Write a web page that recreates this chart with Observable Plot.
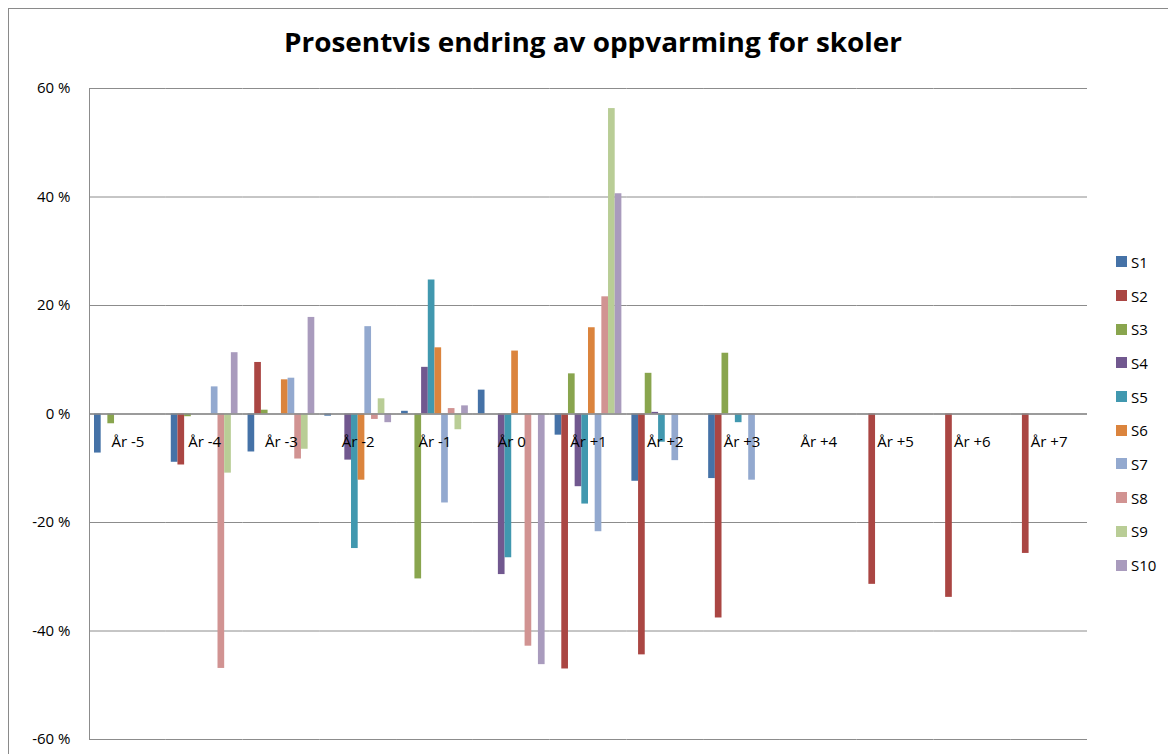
<!DOCTYPE html>
<html>
<head>
<meta charset="utf-8">
<script src="https://cdn.jsdelivr.net/npm/d3@7"></script>
<script src="https://cdn.jsdelivr.net/npm/@observablehq/plot@0.6"></script>
<style>
  body { margin: 0; background: #fff; font-family: "Open Sans", sans-serif; }
  #wrap { position: relative; width: 1168px; height: 754px; overflow: hidden; background: #fff; }
  #frame { position: absolute; left: 8px; top: 8px; width: 1200px; height: 800px;
           border-left: 1px solid #8a8a8a; border-top: 1px solid #8a8a8a; }
  #chart { position: absolute; left: 0; top: 0; }
  #titlebox { position: absolute; left: 0; top: 0; }
  #legend { position: absolute; left: 1116px; top: 245px; font-size: 15px; color: #000; }
  .item { height: 33.7px; display: flex; align-items: center; }
  .sw { width: 11px; height: 11px; margin-right: 4px; }
</style>
</head>
<body>
<div id="wrap">
  <div id="frame"></div>
  <div id="chart"></div>
  <div id="titlebox"></div>
  <div id="legend"></div>
</div>
<script>
const title = "Prosentvis endring av oppvarming for skoler";
const categories = ["År -5", "År -4", "År -3", "År -2", "År -1", "År 0", "År +1", "År +2", "År +3", "År +4", "År +5", "År +6", "År +7"];
const seriesNames = ["S1", "S2", "S3", "S4", "S5", "S6", "S7", "S8", "S9", "S10"];
const seriesColors = ["#4572A7", "#AA4643", "#89A54E", "#71588F", "#4198AF", "#DB843D", "#93A9CF", "#D19392", "#B9CD96", "#A99BBD"];
const yTicks = [-60, -40, -20, 0, 20, 40, 60];

// values in percent, null = no bar
const S1  = [-7.2, -8.9, -7.0, -0.4,   0.5,   4.4,  -3.9, -12.4, -11.9, null, null,  null,  null];
const S2  = [null, -9.4,  9.5, null,  null,  null, -47.0, -44.4, -37.6, null, -31.4, -33.8, -25.7];
const S3  = [-1.8, -0.5,  0.7, null, -30.4,  null,   7.4,   7.5,  11.2, null, null,  null,  null];
const S4  = [null, null, null, -8.5,   8.6, -29.6, -13.4,   0.3,  null, null, null,  null,  null];
const S5  = [null, null, null, -24.8, 24.7, -26.5, -16.6,  -5.2,  -1.6, null, null,  null,  null];
const S6  = [null, null,  6.3, -12.2, 12.2,  11.6,  15.9,  null,  null, null, null,  null,  null];
const S7  = [null,  5.0,  6.6, 16.1, -16.4,  null, -21.7,  -8.6, -12.2, null, null,  null,  null];
const S8  = [null, -46.9, -8.3, -1.0,  1.0, -42.8,  21.6,  null,  null, null, null,  null,  null];
const S9  = [null, -10.9, -6.5,  2.8, -2.9,  null,  56.3,  null,  null, null, null,  null,  null];
const S10 = [null, 11.3, 17.8, -1.6,   1.5, -46.2,  40.6,  null,  null, null, null,  null,  null];

const seriesValues = [S1, S2, S3, S4, S5, S6, S7, S8, S9, S10];
const data = [];
categories.forEach((c, i) => {
  seriesNames.forEach((s, j) => {
    const v = seriesValues[j][i];
    if (v != null) data.push({cat: c, series: s, value: v});
  });
});

const gridColor = "#8c8c8c";
const chart = Plot.plot({
  width: 1168,
  height: 754,
  marginTop: 88,
  marginBottom: 15,
  marginLeft: 89,
  marginRight: 81,
  style: {fontFamily: "'Open Sans', sans-serif", fontSize: "15px", color: "#000", background: "transparent", overflow: "visible"},
  fx: {domain: categories, padding: 0, round: false, axis: null, label: null},
  x: {domain: seriesNames, paddingInner: 0, paddingOuter: 0.75, round: false, axis: null, label: null},
  y: {domain: [-60, 60], axis: null, label: null},
  color: {domain: seriesNames, range: seriesColors},
  marks: [
    Plot.gridY(yTicks, {stroke: gridColor, strokeOpacity: 1, strokeWidth: 1}),
    Plot.barY(data, {fx: "cat", x: "series", y: "value", fill: "series", inset: 0}),
    Plot.ruleY([0], {stroke: gridColor, strokeWidth: 1.5}),
    Plot.frame({anchor: "left", stroke: gridColor, strokeWidth: 1, facetAnchor: "left"}),
    Plot.axisY(yTicks, {tickSize: 0, tickPadding: 19, tickFormat: d => `${d} %`, fill: "#000", label: null, facetAnchor: "left", fontSize: 15}),
    Plot.text(categories, {fx: d => d, text: d => d, y: () => 0, dy: 28, fill: "#000", fontSize: 15})
  ]
});
document.getElementById("chart").appendChild(chart);

// title
const tsvg = d3.select("#titlebox").append("svg").attr("width", 1168).attr("height", 80);
tsvg.append("text")
  .attr("x", 593).attr("y", 52)
  .attr("text-anchor", "middle")
  .attr("font-family", "'Open Sans', sans-serif")
  .attr("font-weight", "bold")
  .attr("font-size", 27)
  .attr("textLength", 618)
  .attr("lengthAdjust", "spacingAndGlyphs")
  .attr("fill", "#000")
  .text(title);

// legend
const legend = d3.select("#legend");
seriesNames.forEach((s, i) => {
  const it = legend.append("div").attr("class", "item");
  it.append("div").attr("class", "sw").style("background", seriesColors[i]);
  it.append("span").text(s);
});
</script>
</body>
</html>
